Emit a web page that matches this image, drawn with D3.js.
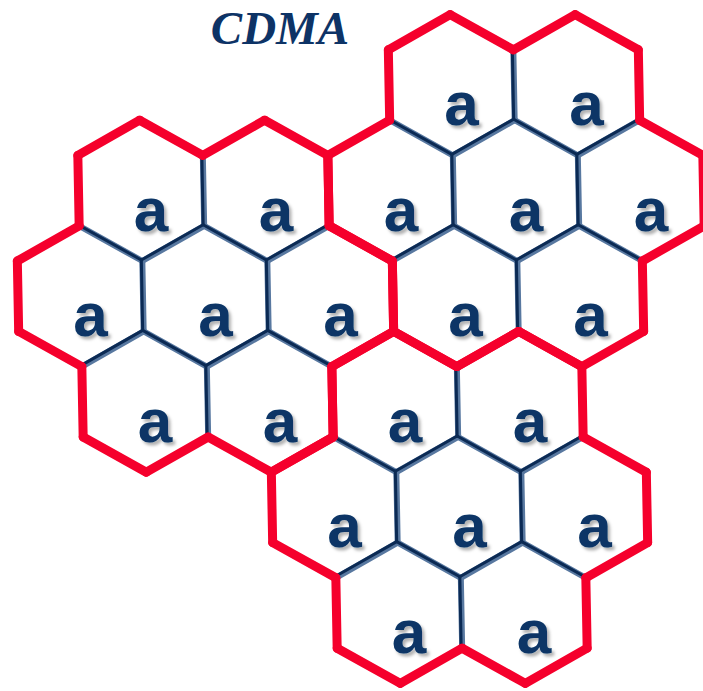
<!DOCTYPE html>
<html>
<head>
<meta charset="utf-8">
<script src="https://cdn.jsdelivr.net/npm/d3@7"></script>
<style>
  body { margin: 0; background: #fff; }
  .lbl { font-family: "Liberation Sans", Arial, sans-serif; font-weight: bold; }
  .ttl { font-family: "Liberation Serif", "Times New Roman", serif; font-weight: bold; font-style: italic; }
</style>
</head>
<body>
<svg id="chart" width="703" height="691"></svg>
<script>
// cells of the layout: row index, half-column index, cluster id, label
var cellRow     = [0, 0, 1, 1, 1, 1, 1, 2, 2, 2, 2, 2, 3, 3, 3, 3, 4, 4, 4, 5, 5];
var cellCol     = [5, 7, 0, 2, 4, 6, 8, -1, 1, 3, 5, 7, 0, 2, 4, 6, 3, 5, 7, 4, 6];
var cellCluster = ["B","B","A","A","B","B","B","A","A","A","B","B","A","A","C","C","C","C","C","C","C"];
var cellLabel   = ["a","a","a","a","a","a","a","a","a","a","a","a","a","a","a","a","a","a","a","a","a"];
var clusters    = ["A", "B", "C"];
var title       = "CDMA";

var width = 703, height = 691;

// half-column -> x, third-of-row -> y
var x = d3.scaleLinear().domain([0, 8]).range([139, 639]);
var y = d3.scaleLinear().domain([0, 15]).range([85, 613]);
var skew = 2 / 3; // slight lean of the drawing, px per y unit

function pt(h, u) { return [x(h) + u * skew, y(u)]; }

// pointy-top hexagon corners in (half-col, third-row) units
var corners = [[0,-2],[1,-1],[1,1],[0,2],[-1,1],[-1,-1]];

var cells = cellRow.map(function(r, i) {
  return {row: r, col: cellCol[i], cluster: cellCluster[i], label: cellLabel[i]};
});

function cellEdges(c) {
  var cu = c.row * 3, ch = c.col, out = [];
  for (var k = 0; k < 6; k++) {
    var a = corners[k], b = corners[(k + 1) % 6];
    var p = [ch + a[0], cu + a[1]], q = [ch + b[0], cu + b[1]];
    var key = [p.join(","), q.join(",")].sort().join("|");
    out.push({key: key, p: p, q: q});
  }
  return out;
}

// all grid edges (deduped)
var allEdges = {};
cells.forEach(function(c) {
  cellEdges(c).forEach(function(e) { allEdges[e.key] = e; });
});
var gridEdges = Object.keys(allEdges).map(function(k) { return allEdges[k]; });

// cluster outline edges: edges used once within the cluster
var outline = [];
clusters.forEach(function(cl) {
  var count = {}, ref = {};
  cells.filter(function(c) { return c.cluster === cl; }).forEach(function(c) {
    cellEdges(c).forEach(function(e) {
      count[e.key] = (count[e.key] || 0) + 1;
      ref[e.key] = e;
    });
  });
  Object.keys(count).forEach(function(k) { if (count[k] === 1) outline.push(ref[k]); });
});

var svg = d3.select("#chart");

var defs = svg.append("defs");
var f = defs.append("filter").attr("id", "shadow")
    .attr("x", "-30%").attr("y", "-30%").attr("width", "160%").attr("height", "160%");
f.append("feDropShadow")
    .attr("dx", 2.5).attr("dy", 3).attr("stdDeviation", 1.6)
    .attr("flood-color", "#000").attr("flood-opacity", 0.3);

function drawEdges(g, data) {
  return g.selectAll("line")
      .data(data)
    .enter().append("line")
      .attr("x1", function(d) { return pt(d.p[0], d.p[1])[0]; })
      .attr("y1", function(d) { return pt(d.p[0], d.p[1])[1]; })
      .attr("x2", function(d) { return pt(d.q[0], d.q[1])[0]; })
      .attr("y2", function(d) { return pt(d.q[0], d.q[1])[1]; });
}

// grid lines: light bevel under a dark line
drawEdges(svg.append("g"), gridEdges)
    .attr("stroke", "#5878a0")
    .attr("stroke-width", 6)
    .attr("stroke-linecap", "round");

drawEdges(svg.append("g").attr("transform", "translate(-1,-1)"), gridEdges)
    .attr("stroke", "#0b2a54")
    .attr("stroke-width", 3)
    .attr("stroke-linecap", "round");

// red cluster outlines
drawEdges(svg.append("g"), outline)
    .attr("stroke", "#f5002c")
    .attr("stroke-width", 9)
    .attr("stroke-linecap", "round");

// cell labels
svg.append("g").selectAll("text")
    .data(cells)
  .enter().append("text")
    .attr("class", "lbl")
    .attr("x", function(d) { return pt(d.col, d.row * 3)[0] + 10; })
    .attr("y", function(d) { return pt(d.col, d.row * 3)[1] + 40; })
    .attr("text-anchor", "middle")
    .attr("font-size", 62)
    .attr("fill", "#0a3566")
    .attr("filter", "url(#shadow)")
    .text(function(d) { return d.label; });

// title
svg.append("text")
    .attr("class", "ttl")
    .attr("x", 280)
    .attr("y", 44)
    .attr("text-anchor", "middle")
    .attr("font-size", 47)
    .attr("fill", "#0d3366")
    .text(title);
</script>
</body>
</html>
